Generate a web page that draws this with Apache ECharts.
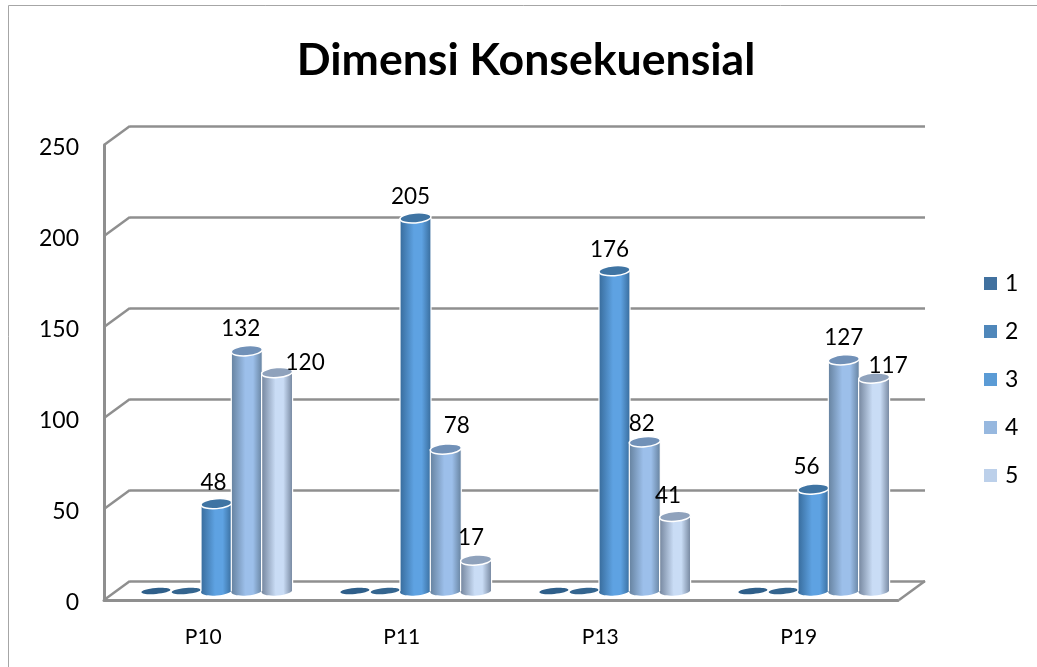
<!DOCTYPE html>
<html>
<head>
<meta charset="utf-8">
<title>Dimensi Konsekuensial</title>
<script src="https://cdn.jsdelivr.net/npm/echarts@6/dist/echarts.min.js"></script>
<style>
  html, body { margin: 0; padding: 0; background: #fff; }
  #chart { width: 1037px; height: 667px; }
</style>
</head>
<body>
<div id="chart"></div>
<script>
  // data
  const categories = ['P10', 'P11', 'P13', 'P19'];
  const yTicks = [0, 50, 100, 150, 200, 250];
  const seriesNames = ['1', '2', '3', '4', '5'];
  const values1 = [0, 0, 0, 0];
  const values2 = [0, 0, 0, 0];
  const values3 = [48, 205, 176, 56];
  const values4 = [132, 78, 82, 127];
  const values5 = [120, 17, 41, 117];

  // look of each cylinder: legend colour, edge, middle, top cap
  const looks = [
    { color: '#41719f', edge: '#2e5f8c', mid: '#3f74a6', cap: '#2f5f8a' },
    { color: '#4f87ba', edge: '#34658f', mid: '#4f87ba', cap: '#34658f' },
    { color: '#5b9bd5', edge: '#386c9c', mid: '#5ea2e2', cap: '#3f74a3' },
    { color: '#97b8df', edge: '#66829f', mid: '#9cbfea', cap: '#7191b8' },
    { color: '#bcd0ea', edge: '#75869e', mid: '#c9dcf5', cap: '#8fa2bc' }
  ];
  // hand placement of the value labels, [dx, dy] from the top of each cylinder
  const labelShift = {
    2: [[-3, -21], [-5, -21], [-5, -21], [-7, -22]],
    3: [[-6, -22], [11, -23], [-3, -18], [0, -22]],
    4: [[28, -10], [-5, -22], [-7, -21], [14, -12]]
  };

  const font = 'Lato, "Open Sans", sans-serif';
  const gray = '#8f8f8f';
  const barStep = 30.3;
  const barWidth = 31;
  const capRy = 4.5;
  const depthX = 26;
  const depthY = 19;

  function lineEl(x1, y1, x2, y2) {
    return {
      type: 'line',
      shape: { x1: x1, y1: y1, x2: x2, y2: y2 },
      style: { stroke: gray, lineWidth: 2.5 }
    };
  }

  // slanted lines that join the front axis to the back wall, and the floor
  function renderWall(params, api) {
    let p = api.coord([0, api.value(0)]);
    let kids = [lineEl(p[0] - depthX, p[1] + depthY, p[0], p[1])];
    if (api.value(0) === 0) {
      let r = api.coord([1, 0]);
      kids.push(lineEl(r[0] - depthX, r[1] + depthY, r[0], r[1]));
    }
    return { type: 'group', children: kids };
  }

  function renderCylinder(s) {
    return function (params, api) {
      let v = api.value(1);
      let top = api.coord([api.value(0), v]);
      let base = api.coord([api.value(0), 0]);
      let x = top[0] + (s - 2) * barStep;
      let look = looks[s];
      let kids = [];
      if (v > 0) {
        let fill = new echarts.graphic.LinearGradient(0, 0, 1, 0, [
          { offset: 0, color: look.edge },
          { offset: 0.45, color: look.mid },
          { offset: 0.7, color: look.mid },
          { offset: 1, color: look.edge }
        ]);
        kids.push({
          type: 'ellipse',
          shape: { cx: x, cy: base[1], rx: barWidth / 2, ry: capRy },
          rotation: 0.08, originX: x, originY: base[1],
          style: { fill: fill }
        });
        kids.push({
          type: 'rect',
          shape: { x: x - barWidth / 2, y: top[1], width: barWidth, height: base[1] - top[1] },
          style: { fill: fill }
        });
        let leftEdge = lineEl(x - barWidth / 2, top[1], x - barWidth / 2, base[1]);
        leftEdge.style = { stroke: '#fff', lineWidth: 1.2 };
        kids.push(leftEdge);
        let rightEdge = lineEl(x + barWidth / 2, top[1], x + barWidth / 2, base[1]);
        rightEdge.style = { stroke: '#fff', lineWidth: 1.2 };
        kids.push(rightEdge);
      }
      kids.push({
        type: 'ellipse',
        shape: { cx: x, cy: top[1], rx: v > 0 ? barWidth / 2 : 14.5, ry: v > 0 ? capRy + 0.5 : 3 },
        rotation: 0.08, originX: x, originY: top[1],
        style: { fill: look.cap, stroke: v > 0 ? '#fff' : null, lineWidth: v > 0 ? 1.5 : 0 }
      });
      if (v > 0) {
        let shift = labelShift[s][api.value(0)];
        kids.push({
          type: 'text',
          z2: 50,
          style: {
            x: x + shift[0], y: top[1] + shift[1], text: String(v),
            font: '22.5px ' + font, fill: '#000', align: 'center', verticalAlign: 'middle'
          }
        });
      }
      return { type: 'group', children: kids };
    };
  }

  function cylinderSeries(name, s, values) {
    return {
      name: name,
      type: 'custom',
      xAxisIndex: 2,
      yAxisIndex: 2,
      itemStyle: { color: looks[s].color },
      clip: false,
      z: 5 + s,
      renderItem: renderCylinder(s),
      data: values.map(function (v, i) { return [i, v]; })
    };
  }

  let myChart = echarts.init(document.getElementById('chart'));
  let option = {
    backgroundColor: '#fff',
    animation: false,
    title: {
      text: 'Dimensi Konsekuensial',
      left: 521,
      top: 33,
      textAlign: 'center',
      textStyle: { fontFamily: font, fontSize: 44.6, fontWeight: 'bold', color: '#000' }
    },
    legend: {
      orient: 'vertical',
      left: 984,
      top: 272,
      padding: 0,
      icon: 'rect',
      itemWidth: 13,
      itemHeight: 13,
      itemGap: 25,
      data: seriesNames,
      textStyle: { fontFamily: font, fontSize: 23, color: '#000', padding: [3, 0, 0, 3] }
    },
    grid: [
      // front: the axes
      { left: 104, top: 145, width: 794, height: 455 },
      // back wall: the gridlines
      { left: 130, top: 126, width: 795, height: 455 },
      // plane the cylinders stand on
      { left: 117, top: 136, width: 796, height: 455 },
      // value labels sit a little lower than the front axis ticks
      { left: 104, top: 147.5, width: 794, height: 455 }
    ],
    xAxis: [
      {
        gridIndex: 0, type: 'category', data: categories,
        axisLine: { lineStyle: { color: gray, width: 3 } },
        axisTick: { show: false },
        axisLabel: { fontFamily: font, fontSize: 21, color: '#000', margin: 27 }
      },
      { gridIndex: 1, type: 'value', min: 0, max: 1, show: false },
      { gridIndex: 2, type: 'category', data: categories, show: false },
      { gridIndex: 3, type: 'value', min: 0, max: 1, show: false }
    ],
    yAxis: [
      {
        gridIndex: 0, type: 'value', min: 0, max: 250, interval: 50,
        axisLine: { show: true, lineStyle: { color: gray, width: 3 } },
        axisTick: { show: false },
        splitLine: { show: false },
        axisLabel: { show: false }
      },
      {
        gridIndex: 1, type: 'value', min: 0, max: 250, interval: 50,
        axisLine: { show: false },
        axisTick: { show: false },
        axisLabel: { show: false },
        splitLine: { lineStyle: { color: gray, width: 2.5 } }
      },
      { gridIndex: 2, type: 'value', min: 0, max: 250, show: false },
      {
        gridIndex: 3, type: 'value', min: 0, max: 250, interval: 50,
        axisLine: { show: false },
        axisTick: { show: false },
        splitLine: { show: false },
        axisLabel: { fontFamily: font, fontSize: 23, color: '#000', margin: 25 }
      }
    ],
    graphic: [
      // chart frame, only the top and left show in the picture
      {
        type: 'rect', silent: true,
        shape: { x: 8.5, y: 5.5, width: 1200, height: 800 },
        style: { fill: 'transparent', stroke: '#a6a6a6', lineWidth: 1 }
      }
    ],
    series: [
      {
        name: 'wall',
        type: 'custom',
        xAxisIndex: 1,
        yAxisIndex: 1,
        clip: false,
        z: 3,
        silent: true,
        renderItem: renderWall,
        data: yTicks.map(function (v) { return [v]; })
      },
      cylinderSeries(seriesNames[0], 0, values1),
      cylinderSeries(seriesNames[1], 1, values2),
      cylinderSeries(seriesNames[2], 2, values3),
      cylinderSeries(seriesNames[3], 3, values4),
      cylinderSeries(seriesNames[4], 4, values5)
    ]
  };
  myChart.setOption(option);
</script>
</body>
</html>
